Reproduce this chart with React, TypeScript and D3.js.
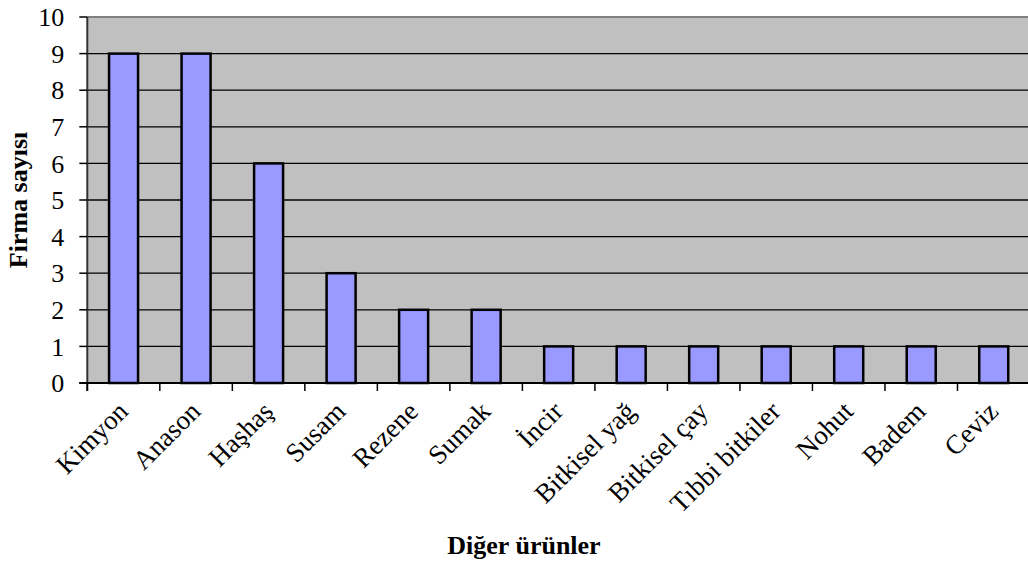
import React from "react";
import * as d3 from "d3";

const categories = ["Kimyon", "Anason", "Haşhaş", "Susam", "Rezene", "Sumak", "İncir", "Bitkisel yağ", "Bitkisel çay", "Tıbbi bitkiler", "Nohut", "Badem", "Ceviz"];
const values = [9, 9, 6, 3, 2, 2, 1, 1, 1, 1, 1, 1, 1];
const yTicks = [0, 1, 2, 3, 4, 5, 6, 7, 8, 9, 10];

const W = 1028, H = 564;
const left = 87.3, right = 1030, top = 17, bottom = 383;

export default function App() {
  const x = d3.scaleBand<string>().domain(categories).range([left, right]).paddingInner(0).paddingOuter(0);
  const y = d3.scaleLinear().domain([0, 10]).range([bottom, top]);
  const bw = x.bandwidth() * 0.4;
  const font = "Liberation Serif";
  return (
    <svg width={W} height={H} style={{ position: "absolute", left: 0, top: 0, fontFamily: font }}>
      <rect x={left} y={top} width={right - left} height={bottom - top} fill="#c0c0c0" />
      {yTicks.filter(t => t > 0 && t < 10).map(t => (
        <line key={t} x1={left} x2={right} y1={y(t)} y2={y(t)} stroke="#000" strokeWidth={1.3} />
      ))}
      <line x1={left} x2={right} y1={y(10)} y2={y(10)} stroke="#808080" strokeWidth={2} />
      {categories.map((c, i) => (
        <rect key={c} x={x(c)! + x.bandwidth() / 2 - bw / 2} y={y(values[i])} width={bw} height={y(0) - y(values[i])}
          fill="#9999ff" stroke="#000" strokeWidth={2.5} />
      ))}
      <line x1={left} x2={left} y1={top} y2={bottom + 8} stroke="#333" strokeWidth={2} />
      <line x1={left - 8} x2={right} y1={bottom} y2={bottom} stroke="#000" strokeWidth={2} />
      {yTicks.map(t => (
        <g key={t}>
          <line x1={left - 8} x2={left} y1={y(t)} y2={y(t)} stroke="#000" strokeWidth={1.5} />
          <text x={left - 23} y={y(t)} dy="0.35em" textAnchor="end" fontSize={26} style={{ fontFamily: font }}>{t}</text>
        </g>
      ))}
      {categories.map((c, i) => (
        <line key={"t" + c} x1={x(c)!} x2={x(c)!} y1={bottom} y2={bottom + 8} stroke="#000" strokeWidth={1.5} />
      ))}
      {categories.map(c => {
        const cx = x(c)! + x.bandwidth() / 2 + 6;
        const cy = 413;
        return (
          <text key={"l" + c} x={cx} y={cy} textAnchor="end" fontSize={27} style={{ fontFamily: font }} transform={`rotate(-45 ${cx} ${cy})`}>{c}</text>
        );
      })}
      <text x={524} y={554} textAnchor="middle" fontSize={26} fontWeight="bold" style={{ fontFamily: font }}>Diğer ürünler</text>
      <text transform={`translate(27 ${(top + bottom) / 2}) rotate(-90)`} textAnchor="middle" fontSize={26} fontWeight="bold" style={{ fontFamily: font }}>Firma sayısı</text>
    </svg>
  );
}
